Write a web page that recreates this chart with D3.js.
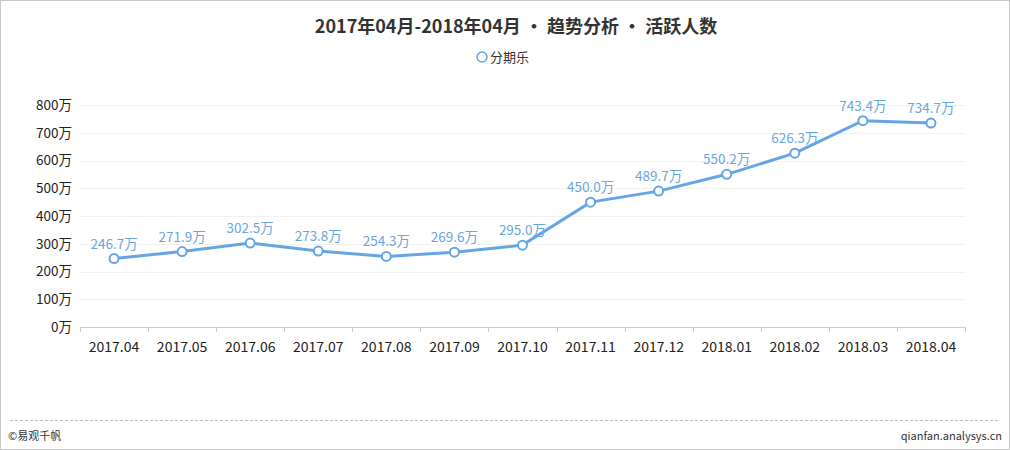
<!DOCTYPE html>
<html>
<head>
<meta charset="utf-8">
<script src="https://cdn.jsdelivr.net/npm/d3@7"></script>
<style>
  body { margin: 0; background: #fff; }
  text { font-family: "Microsoft YaHei", "Noto Sans CJK SC", sans-serif; }
</style>
</head>
<body>
<div id="content"></div>
<script>
// data
var months = ["2017.04", "2017.05", "2017.06", "2017.07", "2017.08", "2017.09", "2017.10",
  "2017.11", "2017.12", "2018.01", "2018.02", "2018.03", "2018.04"];
var activeUsers = [246.7, 271.9, 302.5, 273.8, 254.3, 269.6, 295.0, 450.0, 489.7, 550.2, 626.3, 743.4, 734.7];
var yTicks = [0, 100, 200, 300, 400, 500, 600, 700, 800];
var seriesName = "分期乐";
var titleText = "2017年04月-2018年04月 • 趋势分析 • 活跃人数";

var W = 1010, H = 450;
var margin = {top: 105, right: 45, bottom: 123, left: 80},
  width = W - margin.left - margin.right,
  height = H - margin.top - margin.bottom;

var lineColor = "#65a5e5";
var fontStack = "\"Microsoft YaHei\", \"Noto Sans CJK SC\", sans-serif";

var root = d3.select("#content").append("svg")
  .attr("width", W)
  .attr("height", H);

// outer frame
root.append("rect")
  .attr("x", 0.5).attr("y", 0.5)
  .attr("width", W - 1).attr("height", H - 1)
  .attr("fill", "#fff")
  .attr("stroke", "#c8c8c8");

// title
root.append("text")
  .attr("x", 516).attr("y", 33)
  .attr("text-anchor", "middle")
  .attr("font-size", 18)
  .attr("font-weight", "bold")
  .attr("fill", "#333")
  .text(titleText);

// legend
root.append("circle")
  .attr("cx", 482).attr("cy", 57).attr("r", 5)
  .attr("fill", "#fff").attr("stroke", lineColor).attr("stroke-width", 1.5);
root.append("text")
  .attr("x", 490).attr("y", 62)
  .attr("font-size", 13)
  .attr("fill", "#333")
  .text(seriesName);

var svg = root.append("g")
  .attr("transform", "translate(" + margin.left + "," + margin.top + ")");

var x = d3.scaleBand().domain(months).range([0, width]);
var y = d3.scaleLinear().domain([0, 800]).range([height, 0]);

// grid lines
svg.append("g")
  .selectAll("line")
  .data(yTicks.slice(1))
  .enter().append("line")
  .attr("x1", 0).attr("x2", width)
  .attr("y1", function(d) { return Math.round(y(d)) + 0.5; })
  .attr("y2", function(d) { return Math.round(y(d)) + 0.5; })
  .attr("stroke", "#f1f1f1");

// x axis
var xAxis = svg.append("g")
  .attr("transform", "translate(0," + height + ")")
  .call(d3.axisBottom(x).tickSize(0).tickPadding(15));
xAxis.select(".domain").attr("stroke", "#ccc").attr("d", "M0.5,0.5H" + width);
xAxis.selectAll("text").attr("font-size", 14).attr("fill", "#222")
  .style("font-family", fontStack);
// category boundary ticks
svg.append("g")
  .selectAll("line")
  .data(months.concat(["end"]))
  .enter().append("line")
  .attr("x1", function(d, i) { return Math.round(i < months.length ? x(d) : width) + 0.5; })
  .attr("x2", function(d, i) { return Math.round(i < months.length ? x(d) : width) + 0.5; })
  .attr("y1", height).attr("y2", height + 5)
  .attr("stroke", "#ccc");

// y axis
var yAxis = svg.append("g")
  .call(d3.axisLeft(y).tickValues(yTicks).tickSize(0).tickPadding(8)
    .tickFormat(function(d) { return d + "万"; }));
yAxis.select(".domain").remove();
yAxis.selectAll("text").attr("font-size", 13.5).attr("fill", "#222")
  .style("font-family", fontStack);

// line
var valueline = d3.line()
  .x(function(d, i) { return x(months[i]) + x.bandwidth() / 2; })
  .y(function(d) { return y(d); });

svg.append("path")
  .datum(activeUsers)
  .attr("fill", "none")
  .attr("stroke", lineColor)
  .attr("stroke-width", 3)
  .attr("d", valueline);

svg.selectAll(".dot")
  .data(activeUsers)
  .enter().append("circle")
  .attr("class", "dot")
  .attr("cx", function(d, i) { return x(months[i]) + x.bandwidth() / 2; })
  .attr("cy", function(d) { return y(d); })
  .attr("r", 4.5)
  .attr("fill", "#fff")
  .attr("stroke", lineColor)
  .attr("stroke-width", 2);

svg.selectAll(".lbl")
  .data(activeUsers)
  .enter().append("text")
  .attr("class", "lbl")
  .attr("x", function(d, i) { return x(months[i]) + x.bandwidth() / 2; })
  .attr("y", function(d) { return y(d) - 10; })
  .attr("text-anchor", "middle")
  .attr("font-size", 13.5)
  .attr("fill", "#6aa6de")
  .text(function(d) { return d.toFixed(1) + "万"; });

// footer
root.append("line")
  .attr("x1", 10).attr("x2", W - 10)
  .attr("y1", 420.5).attr("y2", 420.5)
  .attr("stroke", "#bbb")
  .attr("stroke-dasharray", "3,2");
root.append("text")
  .attr("x", 8).attr("y", 440)
  .attr("font-size", 11).attr("fill", "#333")
  .text("©易观千帆");
root.append("text")
  .attr("x", W - 8).attr("y", 440)
  .attr("text-anchor", "end")
  .attr("font-size", 11).attr("fill", "#333")
  .text("qianfan.analysys.cn");
</script>
</body>
</html>
